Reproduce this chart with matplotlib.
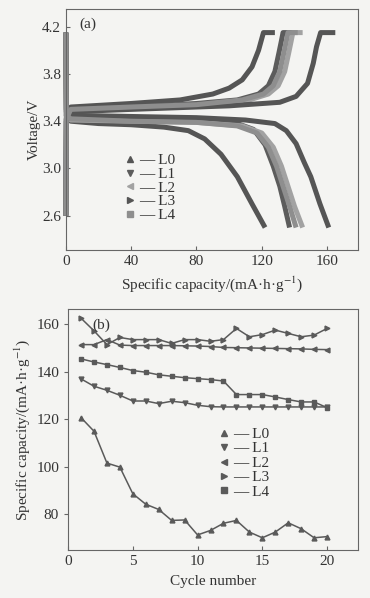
import matplotlib
matplotlib.use("Agg")
import matplotlib.pyplot as plt
from matplotlib.lines import Line2D

plt.rcParams['font.family'] = ['Liberation Serif', 'DejaVu Serif']
plt.rcParams['mathtext.fontset'] = 'stix'

samples = ["L0", "L1", "L2", "L3", "L4"]
markers = ["^", "v", "<", ">", "s"]
curve_colors = ["#555555", "#5c5c5c", "#a2a2a2", "#555555", "#8e8e8e"]

# (a) charge / discharge curves: capacity (mA h/g), voltage (V)
charge_cap = {
    "L0": [0, 0.3, 3, 40, 70, 90, 100, 108, 114, 118, 121, 128],
    "L1": [0, 0.3, 3, 40, 80, 105, 118, 124, 128, 130.5, 132, 133, 139],
    "L2": [0, 0.3, 3, 40, 80, 110, 124, 130, 134, 136.5, 138, 139, 145],
    "L3": [0, 0.3, 3, 40, 80, 100, 131, 141, 148, 151.5, 153.5, 156, 165],
    "L4": [0, 0.3, 3, 40, 80, 108, 121, 127, 131, 133.5, 135, 136, 142],
}
charge_v = {
    "L0": [2.6, 3.45, 3.52, 3.55, 3.58, 3.63, 3.68, 3.75, 3.86, 4.0, 4.15, 4.15],
    "L1": [2.6, 3.42, 3.5, 3.52, 3.55, 3.58, 3.63, 3.7, 3.82, 3.98, 4.08, 4.15, 4.15],
    "L2": [2.6, 3.42, 3.49, 3.51, 3.53, 3.57, 3.63, 3.7, 3.82, 3.98, 4.08, 4.15, 4.15],
    "L3": [2.6, 3.4, 3.48, 3.5, 3.52, 3.53, 3.56, 3.61, 3.72, 3.89, 4.03, 4.15, 4.15],
    "L4": [2.6, 3.42, 3.5, 3.52, 3.54, 3.58, 3.63, 3.7, 3.82, 3.98, 4.08, 4.15, 4.15],
}
discharge_cap = {
    "L0": [0, 0.3, 3, 20, 40, 60, 75, 85, 95, 105, 114, 122],
    "L1": [0, 0.3, 3, 40, 80, 105, 115, 122, 127, 131, 134, 137],
    "L2": [0, 0.3, 3, 40, 80, 108, 120, 127, 132, 136, 140, 145],
    "L3": [0, 0.3, 3, 40, 80, 110, 128, 135, 141, 146, 150, 155.6, 161],
    "L4": [0, 0.3, 3, 40, 80, 105, 117, 124, 129, 133, 137, 141],
}
discharge_v = {
    "L0": [4.15, 3.45, 3.4, 3.38, 3.37, 3.35, 3.32, 3.25, 3.12, 2.93, 2.7, 2.5],
    "L1": [4.15, 3.48, 3.44, 3.43, 3.41, 3.38, 3.33, 3.2, 3.02, 2.85, 2.68, 2.5],
    "L2": [4.15, 3.45, 3.41, 3.4, 3.39, 3.36, 3.3, 3.18, 3.02, 2.85, 2.68, 2.5],
    "L3": [4.15, 3.5, 3.45, 3.44, 3.43, 3.41, 3.38, 3.32, 3.21, 3.05, 2.93, 2.7, 2.5],
    "L4": [4.15, 3.45, 3.42, 3.4, 3.39, 3.36, 3.3, 3.18, 3.02, 2.85, 2.68, 2.5],
}

# (b) cycling performance
cycles = list(range(1, 21))
cyc_cap = {
    "L0": [120.7, 115, 101.6, 99.9, 88.7, 84.3, 82.1, 77.5, 77.7, 71.4,
           73.3, 76.3, 77.5, 72.6, 70.2, 72.6, 76.5, 74, 70.2, 70.7],
    "L1": [137, 133.9, 132.2, 130.1, 127.7, 127.7, 126.6, 127.6, 127, 125.9,
           125.3, 125.2, 125.2, 125.2, 125.2, 125.2, 125.2, 125.2, 125.2, 125.2],
    "L2": [151.4, 151.4, 153.5, 151.2, 151, 151, 151, 151, 150.9, 150.8,
           150.6, 150.2, 150.1, 150, 149.9, 149.8, 149.7, 149.6, 149.4, 149.3],
    "L3": [162.5, 157.2, 151.4, 154.4, 153.5, 153.5, 153.5, 151.9, 153.5, 153.5,
           152.8, 153.5, 158.2, 154.7, 155.6, 157.5, 156.1, 154.7, 155.4, 158.2],
    "L4": [145.4, 144.1, 143, 141.8, 140.5, 139.8, 138.7, 138.1, 137.5, 137.1,
           136.7, 136.1, 130.4, 130.4, 130.4, 129.4, 128.3, 127.3, 127.3, 124.9],
}

bg = "#f4f4f2"
fs = 11
fig = plt.figure(figsize=(3.7, 5.98), dpi=100, facecolor=bg)
ax1 = fig.add_axes([0.178, 0.582, 0.79, 0.403], facecolor=bg)
ax2 = fig.add_axes([0.184, 0.080, 0.784, 0.403], facecolor=bg)

for s, c in zip(samples, curve_colors):
    ax1.plot(charge_cap[s], charge_v[s], color=c, lw=3.6, solid_joinstyle='round',
             solid_capstyle='butt', clip_on=False)
    ax1.plot(discharge_cap[s], discharge_v[s], color=c, lw=3.6, solid_joinstyle='round',
             solid_capstyle='butt', clip_on=False)

ax1.set_xlim(0, 179)
ax1.set_ylim(2.31, 4.35)
ax1.set_xticks([0, 40, 80, 120, 160])
ax1.set_yticks([2.6, 3.0, 3.4, 3.8, 4.2])
ax1.set_xlabel("Specific capacity/(mA·h·g$^{-1}$)", fontsize=fs, labelpad=5)
ax1.set_ylabel("Voltage/V", fontsize=fs, labelpad=1)
ax1.text(0.045, 0.92, "(a)", transform=ax1.transAxes, fontsize=fs, color="#333333")

h1 = [Line2D([], [], ls='none', marker=m, color=c, markersize=5) for m, c in zip(markers, curve_colors)]
ax1.legend(h1, ["— " + s for s in samples], loc='upper left', bbox_to_anchor=(0.205, 0.40),
           frameon=False, fontsize=fs, handlelength=0.6, handletextpad=0.3,
           labelspacing=0.0, borderpad=0, borderaxespad=0, labelcolor="#333333")

line_c = "#5a5a5a"
for s, m in zip(samples, markers):
    ax2.plot(cycles, cyc_cap[s], color=line_c, lw=1.1, marker=m, markersize=3.5)

ax2.set_xlim(0, 22.4)
ax2.set_ylim(65, 166.3)
ax2.set_xticks([0, 5, 10, 15, 20])
ax2.set_yticks([80, 100, 120, 140, 160])
ax2.set_xlabel("Cycle number", fontsize=fs, labelpad=5)
ax2.set_ylabel("Specific capacity/(mA·h·g$^{-1}$)", fontsize=fs, labelpad=3)
ax2.text(0.085, 0.92, "(b)", transform=ax2.transAxes, fontsize=fs, color="#333333")

h2 = [Line2D([], [], ls='none', marker=m, color=line_c, markersize=4.5) for m in markers]
ax2.legend(h2, ["— " + s for s in samples], loc='upper left', bbox_to_anchor=(0.52, 0.51),
           frameon=False, fontsize=fs, handlelength=0.6, handletextpad=0.3,
           labelspacing=0.05, borderpad=0, borderaxespad=0, labelcolor="#333333")

for ax in (ax1, ax2):
    for sp in ax.spines.values():
        sp.set_color("#666666")
        sp.set_linewidth(0.8)
    ax.tick_params(direction='in', length=3, width=0.8, color="#666666",
                   labelsize=fs, labelcolor="#333333")
    ax.xaxis.label.set_color("#333333")
    ax.yaxis.label.set_color("#333333")
ax2.tick_params(axis='y', direction='out')

fig.savefig("out.png", dpi=100, facecolor=bg)
